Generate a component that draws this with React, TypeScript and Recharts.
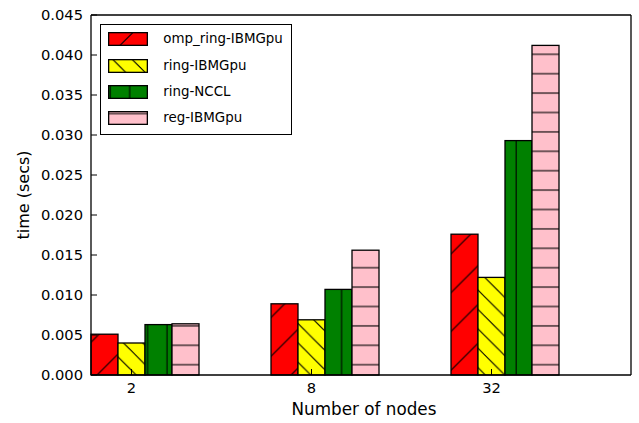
import React from 'react';
import { BarChart, Bar, XAxis, YAxis, Legend, Label } from 'recharts';

const categories = ['2', '8', '32'];
const ompRingIBMGpu = [0.0051, 0.0089, 0.0176];
const ringIBMGpu = [0.004, 0.0069, 0.0122];
const ringNCCL = [0.0063, 0.0107, 0.0293];
const regIBMGpu = [0.0064, 0.0156, 0.0412];
const yTicks = [0, 0.005, 0.01, 0.015, 0.02, 0.025, 0.03, 0.035, 0.04, 0.045];

const GROUP_CENTER = 0.3;
const TICK_OFFSET = 0.225;

const rows = categories.map((c, i) => ({
  pos: i + GROUP_CENTER,
  label: c,
  omp: ompRingIBMGpu[i],
  ring: ringIBMGpu[i],
  nccl: ringNCCL[i],
  reg: regIBMGpu[i],
}));
const xTicks = categories.map((_, i) => i + TICK_OFFSET);

type Kind = 'slash' | 'bslash' | 'vert' | 'horiz';

function hatchPattern(id: string, kind: Kind, sx: number, sy: number) {
  const T = kind === 'slash' ? 38.8 : 19.4;
  let d = '';
  if (kind === 'slash') {
    const c = 6.5;
    d = `M -2 ${c + 2} L ${c + 2} -2 M ${c - 2} ${T + 2} L ${T + 2} ${c - 2}`;
  } else if (kind === 'bslash') {
    const c = 6;
    d = `M -2 ${c - 2} L ${T + 2} ${T + 2 + c} M -2 ${c - T - 2} L ${T + 2} ${c + 2}`;
  } else if (kind === 'vert') {
    d = `M 11.8 -1 L 11.8 ${T + 1}`;
  } else {
    d = `M -1 15.5 L ${T + 1} 15.5`;
  }
  return (
    <pattern id={id} patternUnits="userSpaceOnUse" x={sx} y={sy} width={T} height={T}>
      <path d={d} stroke="#000" strokeWidth={1.1} fill="none" />
    </pattern>
  );
}

const makeShape = (kind: Kind) => (props: any) => {
  const { x, y, width, height, fill, index } = props;
  if (width == null || height == null) return null;
  const id = `bar-${kind}-${index}`;
  return (
    <g>
      <defs>{hatchPattern(id, kind, 0, 0)}</defs>
      <rect x={x} y={y} width={width} height={height} fill={fill} />
      <rect x={x} y={y} width={width} height={height} fill={`url(#${id})`} />
      <rect x={x} y={y} width={width} height={height} fill="none" stroke="#000" strokeWidth={1.3} />
    </g>
  );
};

const series = [
  { key: 'omp', name: 'omp_ring-IBMGpu', color: '#ff0000', kind: 'slash' as Kind, shift: [18.9, 0] },
  { key: 'ring', name: 'ring-IBMGpu', color: '#ffff00', kind: 'bslash' as Kind, shift: [0, 9] },
  { key: 'nccl', name: 'ring-NCCL', color: '#008000', kind: 'vert' as Kind, shift: [9.9, 0] },
  { key: 'reg', name: 'reg-IBMGpu', color: '#ffc0cb', kind: 'horiz' as Kind, shift: [0, 6.5] },
];

const FONT = 'DejaVu Sans';

const LegendContent = (props: any) => {
  const payload = props.payload || [];
  const ordered = series.map((s) => {
    const e = payload.find((p: any) => p.dataKey === s.key);
    return { s, value: e ? e.value : s.name, color: e ? e.color : s.color };
  });
  return (
    <div
      style={{
        width: 192,
        height: 111,
        border: '1px solid #000',
        background: '#fff',
        boxSizing: 'border-box',
        position: 'relative',
        fontFamily: FONT,
        fontSize: 13.4,
        color: '#000',
      }}
    >
      {ordered.map(({ s, value, color }, i) => {
        const pid = `lg-${s.key}`;
        return (
          <div
            key={s.key}
            style={{ position: 'absolute', left: 7.3, top: 7.3 + i * 26.2, height: 14, display: 'flex', alignItems: 'center' }}
          >
            <svg width={40} height={14} style={{ display: 'block' }}>
              <defs>{hatchPattern(pid, s.kind, s.shift[0], s.shift[1])}</defs>
              <rect x={0.65} y={0.65} width={38.7} height={12.7} fill={color} />
              <rect x={0.65} y={0.65} width={38.7} height={12.7} fill={`url(#${pid})`} />
              <rect x={0.65} y={0.65} width={38.7} height={12.7} fill="none" stroke="#000" strokeWidth={1.3} />
            </svg>
            <span style={{ position: 'absolute', left: 55, whiteSpace: 'nowrap', lineHeight: '14px' }}>{value}</span>
          </div>
        );
      })}
    </div>
  );
};

const tickStyle = { fontSize: 14.7, fill: '#000', fontFamily: FONT };
const axisLine = { stroke: '#000', strokeWidth: 1.3 };
const tickLine = { stroke: '#000', strokeWidth: 1 };

export default function App() {
  return (
    <div style={{ position: 'absolute', left: 0, top: 0, background: '#fff' }}>
      <BarChart width={639} height={423} data={rows} margin={{ top: 0, right: 0, bottom: 0, left: 0 }} barGap={0}>
        <XAxis
          xAxisId="bottom"
          dataKey="pos"
          type="number"
          domain={[0, 3]}
          ticks={xTicks}
          interval={0}
          tickFormatter={(v: number) => categories[Math.round(v - TICK_OFFSET)]}
          height={48}
          tickSize={-6}
          tickMargin={14}
          tick={tickStyle}
          axisLine={axisLine}
          tickLine={tickLine}
        >
          <Label value="Number of nodes" position="insideBottom" offset={8} dx={3} style={{ fontSize: 16.8, fill: '#000', fontFamily: FONT }} />
        </XAxis>
        <XAxis
          xAxisId="top"
          dataKey="pos"
          type="number"
          orientation="top"
          domain={[0, 3]}
          ticks={xTicks}
          interval={0}
          height={15}
          tickSize={-6}
          tick={false}
          axisLine={axisLine}
          tickLine={tickLine}
        />
        <YAxis
          yAxisId="left"
          type="number"
          domain={[0, 0.045]}
          ticks={yTicks}
          interval={0}
          width={91}
          tickSize={-6}
          tickMargin={14}
          tickFormatter={(v: number) => v.toFixed(3)}
          tick={tickStyle}
          axisLine={axisLine}
          tickLine={tickLine}
        >
          <Label value="time (secs)" angle={-90} position="center" dx={-22.5} style={{ fontSize: 16, fill: '#000', fontFamily: FONT, textAnchor: 'middle' }} />
        </YAxis>
        <YAxis
          yAxisId="right"
          type="number"
          orientation="right"
          domain={[0, 0.045]}
          ticks={yTicks}
          interval={0}
          width={8}
          tickSize={-6}
          tick={false}
          axisLine={axisLine}
          tickLine={tickLine}
        />
        {series.map((s) => (
          <Bar
            key={s.key}
            dataKey={s.key}
            name={s.name}
            xAxisId="bottom"
            yAxisId="left"
            fill={s.color}
            barSize={27}
            isAnimationActive={false}
            shape={makeShape(s.kind)}
          />
        ))}
        <Legend
          layout="vertical"
          align="center"
          verticalAlign="middle"
          itemSorter={null as any}
          wrapperStyle={{ left: 100, top: 24, width: 192, height: 111 }}
          content={<LegendContent />}
        />
      </BarChart>
    </div>
  );
}
